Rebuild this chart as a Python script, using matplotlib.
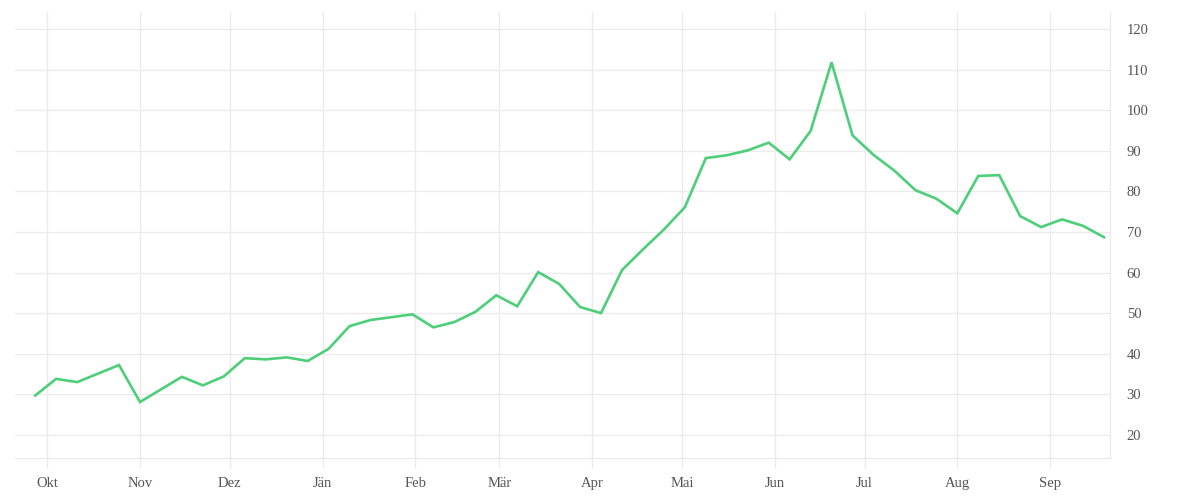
import numpy as np
import pandas as pd
import matplotlib
matplotlib.use("Agg")
import matplotlib.pyplot as plt
import matplotlib.dates as mdates
from matplotlib.ticker import FuncFormatter, MultipleLocator

# weekly values
start_date = "2021-09-27"
values = [29.7, 33.8, 33.0, 35.1, 37.2, 28.1, 31.2, 34.3, 32.2, 34.4,
          38.9, 38.6, 39.1, 38.2, 41.2, 46.8, 48.3, 49.0, 49.7, 46.5,
          47.8, 50.3, 54.4, 51.7, 60.1, 57.2, 51.5, 50.0, 60.6, 65.7,
          70.6, 76.1, 88.2, 88.9, 90.1, 92.0, 87.9, 94.9, 111.8, 93.8,
          89.0, 85.1, 80.3, 78.2, 74.6, 83.8, 84.0, 73.9, 71.2, 73.1,
          71.5, 68.7]
month_names = ["Jän", "Feb", "Mär", "Apr", "Mai", "Jun",
               "Jul", "Aug", "Sep", "Okt", "Nov", "Dez"]
y_ticks = [20, 30, 40, 50, 60, 70, 80, 90, 100, 110, 120]

dates = pd.date_range(start_date, periods=len(values), freq="7D")

grid_col = "#ebebeb"
text_col = "#555555"
plt.rcParams["font.family"] = ["Liberation Serif", "DejaVu Serif"]

fig = plt.figure(figsize=(12, 5), dpi=100)
ax = fig.add_axes([0.0125, 0.084, 0.9125, 0.892])

ax.plot(dates, values, color="#4ccf78", lw=1.9, solid_joinstyle="miter")

ax.set_xlim(pd.Timestamp("2021-09-20 06:00"), pd.Timestamp("2022-09-21"))
ax.set_ylim(14.3, 124.2)

ax.xaxis.set_major_locator(mdates.MonthLocator())
ax.xaxis.set_major_formatter(FuncFormatter(
    lambda x, pos: month_names[mdates.num2date(x).month - 1]))
ax.set_yticks(y_ticks)

ax.yaxis.tick_right()
ax.grid(True, color=grid_col, lw=1)
ax.set_axisbelow(True)

for side in ["top", "left"]:
    ax.spines[side].set_visible(False)
for side in ["right", "bottom"]:
    ax.spines[side].set_color(grid_col)
    ax.spines[side].set_linewidth(1)

ax.tick_params(axis="x", length=7, width=1, color=grid_col, pad=7,
               labelsize=10.5, labelcolor=text_col)
ax.tick_params(axis="y", length=0, pad=12, labelsize=10.5, labelcolor=text_col)

fig.savefig("out.png", dpi=100, facecolor="white")
